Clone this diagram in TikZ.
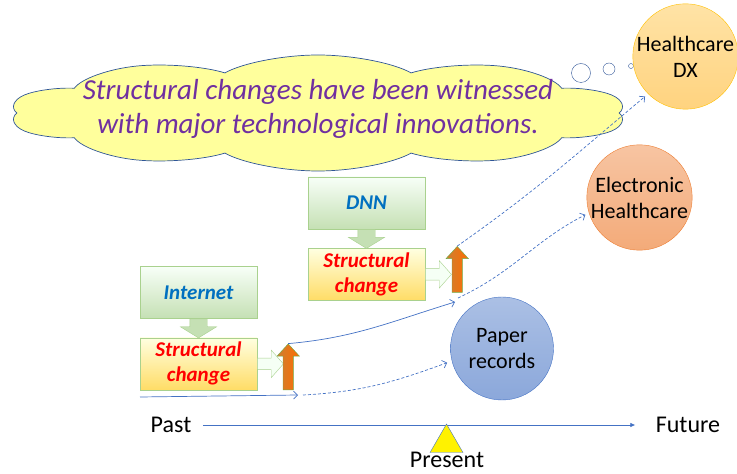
\documentclass[tikz,border=0pt]{standalone}
\usepackage{fontspec}
\setmainfont{Carlito}
\usetikzlibrary{arrows.meta,positioning,shapes.symbols,shapes.arrows,shapes.geometric}
\definecolor{cloudy}{HTML}{FFFF9C}
\definecolor{navy}{HTML}{2F5597}
\definecolor{purp}{HTML}{7030A0}
\definecolor{linkblue}{HTML}{4472C4}
\definecolor{leaf}{HTML}{A9D18E}
\definecolor{leaflt}{HTML}{C5E0B4}
\definecolor{leafdk}{HTML}{70AD47}
\definecolor{textblue}{HTML}{0070C0}
\definecolor{sun}{HTML}{FFC000}
\definecolor{sunlt}{HTML}{FFE3A6}
\definecolor{sunmd}{HTML}{FFD37F}
\definecolor{salmon}{HTML}{ED7D31}
\begin{document}
\begin{tikzpicture}[x=1pt,y=1pt,
  tech/.style={draw=leaf,top color=green!3,bottom color=leaflt,minimum width=117pt,
    minimum height=52pt,align=center,text=textblue,
    font=\fontsize{21}{25}\selectfont\bfseries\itshape},
  chg/.style={tech,top color=yellow!12,bottom color=yellow!55!orange!60,text=red},
  dnarr/.style={single arrow,draw=leaf,fill=leaflt,rotate=-90,inner xsep=0pt,
    inner ysep=8.5pt,minimum height=19pt,minimum width=36pt,single arrow head extend=9.5pt,
    single arrow tip angle=117,anchor=tail},
  rtarr/.style={single arrow,draw=leaf,fill=green!4,inner xsep=0pt,inner ysep=5.5pt,
    minimum height=26pt,minimum width=27pt,single arrow head extend=8pt,
    single arrow tip angle=97,anchor=tail},
  uparr/.style={single arrow,draw=leafdk,left color=brown!80!orange,right color=orange!85!red,
    rotate=90,inner xsep=0pt,inner ysep=5pt,minimum height=46pt,
    minimum width=22pt,single arrow head extend=6pt,single arrow tip angle=85,anchor=tail},
  orb/.style={circle,inner sep=0pt,align=center,font=\fontsize{22}{26}\selectfont},
  thought/.style={circle,draw=navy,inner sep=0pt},
  link/.style={draw=linkblue,line width=0.7pt,-{Straight Barb[length=4pt,width=8pt]}},
  dashlink/.style={link,dash pattern=on 3pt off 2pt}]
  \useasboundingbox (0,0) rectangle (737,474);
  \begin{scope}[xscale=3]
    \node[cloud,transform shape,cloud puffs=10,cloud puff arc=120,cloud ignores aspect,
      draw=navy,fill=cloudy,line width=0.7pt,minimum width=206pt,minimum height=116pt]
      (bubble) at (106,361) {};
  \end{scope}
  \node[align=center,text=purp,font=\fontsize{29}{34}\selectfont\itshape] (msg) at (318,365.5)
    {Structural changes have been witnessed\\with major technological innovations.};
  \node[thought,minimum size=19pt] (b1) at (581,401) {};
  \node[thought,minimum size=12pt] (b2) at (609,405) {};
  \node[thought,minimum size=5pt] (b3) at (631,408) {};
  \node[orb,draw=sun,top color=sunlt,bottom color=sunmd,minimum size=101pt]
    (hdx) at (685.5,417.5) {Healthcare\\DX};
  \node[orb,draw=salmon,top color=salmon!45,bottom color=salmon!65,minimum size=105pt]
    (ehc) at (639.5,276.5) {Electronic\\Healthcare};
  \node[orb,draw=linkblue,top color=linkblue!45,bottom color=linkblue!62,minimum size=103pt]
    (paper) at (502,125.5) {Paper\\records};
  \node[tech] (inet) at (198.5,181.5) {Internet};
  \node[chg,below=19pt of inet] (c1) {Structural\\change};
  \node[tech] (dnn) at (366.5,271) {DNN};
  \node[chg,below=19pt of dnn] (c2) {Structural\\change};
  \node[dnarr] (d1) at (inet.south) {};
  \node[dnarr] (d2) at (dnn.south) {};
  \node[rtarr] (r1) at (c1.east) {};
  \node[rtarr] (r2) at (c2.east) {};
  \node[uparr] (u1) at ([xshift=31pt]c1.south east) {};
  \node[uparr] (u2) at ([xshift=32pt,yshift=8pt]c2.south east) {};
  \coordinate (p0) at (140,77);
  \coordinate (p1) at (298,79);
  \coordinate (q1) at (455,172);
  \draw[link] (p0) -- (p1);
  \draw[dashlink,shorten >=5pt] ([xshift=5pt]p1) to[out=3,in=200] (paper.194);
  \draw[link] (u1.tip) to[out=5,in=197] (q1);
  \draw[dashlink,shorten >=4pt] ([shift={(3pt,4pt)}]q1) to[out=25,in=207] (ehc.197);
  \draw[dashlink,shorten >=4pt] (u2.tip) to[out=35,in=220] (hdx.225);
  \node[font=\fontsize{24}{28}\selectfont] (past) at (171,49) {Past};
  \node[font=\fontsize{24}{28}\selectfont] (future) at (688,49) {Future};
  \draw[draw=linkblue,line width=0.7pt,-{Latex[length=5pt,width=4.5pt]}]
    ([xshift=8pt]past.east) -- ([xshift=-17pt]future.west);
  \node[regular polygon,regular polygon sides=3,draw=linkblue,fill=yellow,inner sep=0pt,
    minimum size=38pt] (now) at (446.5,31) {};
  \node[font=\fontsize{24}{28}\selectfont] (present) at (447,14) {Present};
\end{tikzpicture}
\end{document}
